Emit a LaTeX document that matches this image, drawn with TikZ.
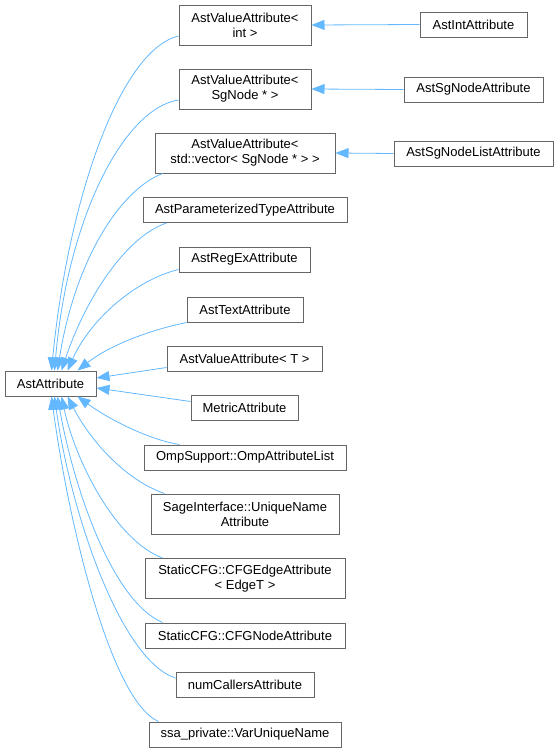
\documentclass[tikz,border=0pt]{standalone}
\usepackage{fontspec}
\setmainfont{Liberation Sans}
\usetikzlibrary{arrows.meta,calc}
\definecolor{edgeblue}{HTML}{63B8FF}
\definecolor{boxgray}{HTML}{666666}
\begin{document}
\begin{tikzpicture}[x=1pt,y=-1pt,
  cls/.style={draw=boxgray, line width=1pt, fill=white, inner sep=0pt, align=center,
    minimum height=25pt, font=\fontsize{13}{15}\selectfont},
  edge/.style={draw=edgeblue, line width=0.8pt, -{Triangle[length=13pt,width=10pt,fill=edgeblue]}}]
\useasboundingbox (0,0) rectangle (559,753);
% nodes
\node[cls, minimum width=91pt] (base) at (50.5,383.5) {AstAttribute};
\node[cls, minimum width=132pt, minimum height=40pt] (vint) at (245,25) {AstValueAttribute<\\ int >};
\node[cls, minimum width=107pt] (intA) at (473.5,24.5) {AstIntAttribute};
\node[cls, minimum width=132pt, minimum height=40pt] (vsg) at (245,89) {AstValueAttribute<\\ SgNode * >};
\node[cls, minimum width=139pt] (sgA) at (473.5,89.5) {AstSgNodeAttribute};
\node[cls, minimum width=180pt, minimum height=40pt] (vvec) at (245,153) {AstValueAttribute<\\ std::vector< SgNode * > >};
\node[cls, minimum width=159pt] (sglA) at (473.5,153.5) {AstSgNodeListAttribute};
\node[cls, minimum width=204pt] (param) at (245,210) {AstParameterizedTypeAttribute};
\node[cls, minimum width=131pt] (regex) at (244.5,259.5) {AstRegExAttribute};
\node[cls, minimum width=116pt] (text) at (245,309.5) {AstTextAttribute};
\node[cls, minimum width=155pt] (tval) at (244.5,358.5) {AstValueAttribute< T >};
\node[cls, minimum width=107pt] (metric) at (244.5,407.5) {MetricAttribute};
\node[cls, minimum width=202pt] (omp) at (245,457.5) {OmpSupport::OmpAttributeList};
\node[cls, minimum width=188pt, minimum height=40pt] (sage) at (245,514) {SageInterface::UniqueName\\ Attribute};
\node[cls, minimum width=200pt, minimum height=40pt] (cfge) at (245,578.5) {StaticCFG::CFGEdgeAttribute\\ < EdgeT >};
\node[cls, minimum width=200pt] (cfgn) at (245,635.5) {StaticCFG::CFGNodeAttribute};
\node[cls, minimum width=138pt] (numc) at (245,685) {numCallersAttribute};
\node[cls, minimum width=192pt] (ssa) at (245,734.5) {ssa\_private::VarUniqueName};
% right column edges
\draw[edge] (intA.west) -- (vint.east);
\draw[edge] (sgA.west) -- (vsg.east);
\draw[edge] (sglA.west) -- (vvec.east);
% edges to base
\draw[edge] ($(vint.west)+(0,11)$) .. controls (120,50) and (68,200) .. ($(base.north west)+(47,0)$);
\draw[edge] ($(vsg.west)+(0,11)$) .. controls (125,108) and (68,215) .. ($(base.north west)+(50,0)$);
\draw[edge] ($(vvec.south west)+(8,0)$) .. controls (120,190) and (75,260) .. ($(base.north west)+(53,0)$);
\draw[edge] ($(param.south west)+(24,0)$) .. controls (125,237) and (85,300) .. ($(base.north west)+(57,0)$);
\draw[edge] ($(regex.west)+(0,10)$) .. controls (135,280) and (90,320) .. ($(base.north west)+(63,0)$);
\draw[edge] (text.south west) .. controls (150,330) and (110,345) .. ($(base.north west)+(73,0)$);
\draw[edge] ($(tval.west)+(0,9)$) -- ($(base.east)+(0,-5.5)$);
\draw[edge] ($(metric.west)+(0,-6)$) -- ($(base.east)+(0,4.5)$);
\draw[edge] ($(omp.north west)+(36,0)$) .. controls (150,440) and (110,420) .. ($(base.south west)+(73,0)$);
\draw[edge] ($(sage.north west)+(14,0)$) .. controls (125,480) and (90,440) .. ($(base.south west)+(63,0)$);
\draw[edge] ($(cfge.north west)+(18,0)$) .. controls (115,540) and (75,460) .. ($(base.south west)+(57,0)$);
\draw[edge] ($(cfgn.north west)+(18,0)$) .. controls (110,600) and (72,480) .. ($(base.south west)+(53,0)$);
\draw[edge] ($(numc.west)+(0,-7)$) .. controls (120,660) and (70,510) .. ($(base.south west)+(50,0)$);
\draw[edge] ($(ssa.north west)+(10,0)$) .. controls (110,700) and (68,520) .. ($(base.south west)+(47,0)$);
\end{tikzpicture}
\end{document}
